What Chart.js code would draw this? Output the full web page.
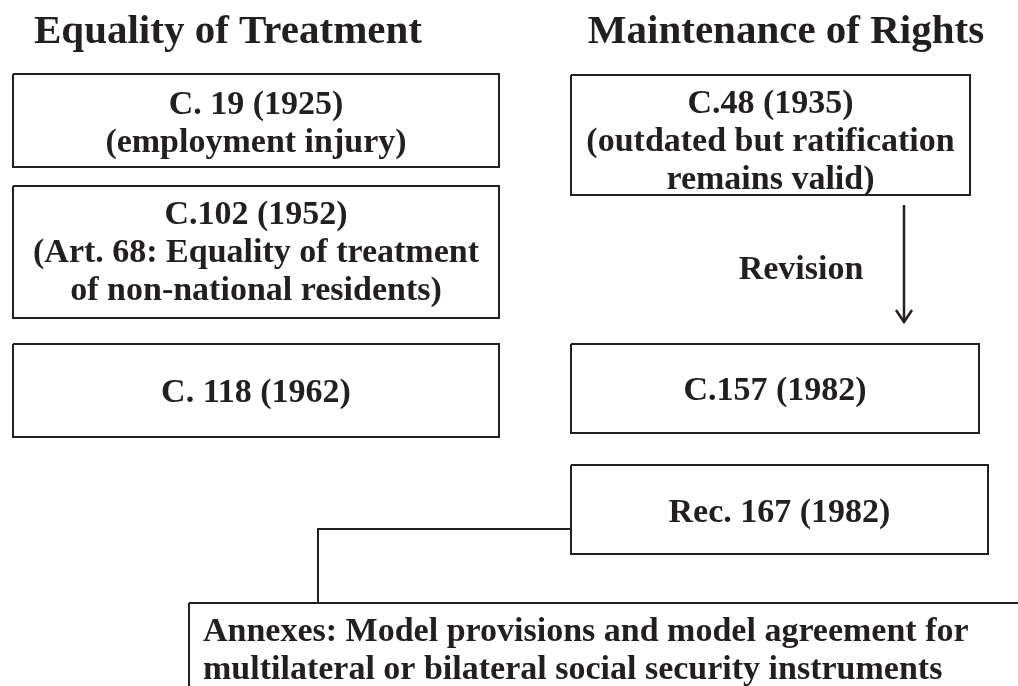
<!DOCTYPE html>
<html>
<head>
<meta charset="utf-8">
<script src="https://cdn.jsdelivr.net/npm/chart.js@4/dist/chart.umd.min.js"></script>
<style>
  html, body { margin: 0; padding: 0; background: #fff; }
  canvas { display: block; }
</style>
</head>
<body>
<canvas id="diagrama" width="1018" height="686"></canvas>
<script>
// Títulos de las dos columnas
var columnTitles = ['Equality of Treatment', 'Maintenance of Rights'];

// Textos de cada caja (una línea por elemento)
var boxTexts = [
    ['C. 19 (1925)', '(employment injury)'],
    ['C.102 (1952)', '(Art. 68: Equality of treatment', 'of non-national residents)'],
    ['C. 118 (1962)'],
    ['C.48 (1935)', '(outdated but ratification', 'remains valid)'],
    ['C.157 (1982)'],
    ['Rec. 167 (1982)'],
    ['Annexes: Model provisions and model agreement for', 'multilateral or bilateral social security instruments']
];
var arrowLabel = 'Revision';

// Geometría en unidades del eje (x 0-1018, y 0-686)
var boxLayout = [
    { x0: 13,  x1: 499,  y0: 74,  y1: 167, base: 114, align: 'center' },
    { x0: 13,  x1: 499,  y0: 186, y1: 318, base: 224, align: 'center' },
    { x0: 13,  x1: 499,  y0: 344, y1: 437, base: 402, align: 'center' },
    { x0: 571, x1: 970,  y0: 75,  y1: 195, base: 113, align: 'center' },
    { x0: 571, x1: 979,  y0: 344, y1: 433, base: 400, align: 'center' },
    { x0: 571, x1: 988,  y0: 465, y1: 554, base: 522, align: 'center' },
    { x0: 189, x1: 1030, y0: 603, y1: 700, base: 641, align: 'left', textX: 203 }
];
var lineGap = 37.8;
var titlePos = [{ x: 228, y: 43 }, { x: 786, y: 43 }];
var connector = [{ x: 571, y: 529 }, { x: 318, y: 529 }, { x: 318, y: 603 }];
var arrowShaft = [{ x: 904, y: 205 }, { x: 904, y: 322 }];
var arrowHead = [{ x: 896, y: 310 }, { x: 904, y: 322 }, { x: 912, y: 310 }];
var arrowLabelPos = { x: 801, y: 279 };

var ink = '#231f20';

function lineSet(points, width) {
    return {
        data: points,
        showLine: true,
        borderColor: ink,
        borderWidth: width,
        pointRadius: 0,
        tension: 0,
        fill: false
    };
}

var datasets = [];
boxLayout.forEach(function(b) {
    datasets.push(lineSet([
        { x: b.x0, y: b.y0 }, { x: b.x1, y: b.y0 }, { x: b.x1, y: b.y1 },
        { x: b.x0, y: b.y1 }, { x: b.x0, y: b.y0 }
    ], 2));
});
datasets.push(lineSet(connector, 2));
datasets.push(lineSet(arrowShaft, 2.5));
datasets.push(lineSet(arrowHead, 2.5));

// Plugin para escribir los textos usando las escalas del gráfico
var textPlugin = {
    id: 'textos',
    afterDatasetsDraw: function(chart) {
        var ctx = chart.ctx;
        var sx = chart.scales.x, sy = chart.scales.y;
        ctx.save();
        ctx.fillStyle = ink;
        ctx.textBaseline = 'alphabetic';

        ctx.font = 'bold 41px "Liberation Serif"';
        ctx.textAlign = 'center';
        columnTitles.forEach(function(t, i) {
            ctx.fillText(t, sx.getPixelForValue(titlePos[i].x), sy.getPixelForValue(titlePos[i].y));
        });

        ctx.font = 'bold 34px "Liberation Serif"';
        boxTexts.forEach(function(lines, i) {
            var b = boxLayout[i];
            var cx = b.align === 'left' ? b.textX : (b.x0 + b.x1) / 2;
            ctx.textAlign = b.align;
            lines.forEach(function(line, j) {
                ctx.fillText(line, sx.getPixelForValue(cx), sy.getPixelForValue(b.base + j * lineGap));
            });
        });

        ctx.textAlign = 'center';
        ctx.fillText(arrowLabel, sx.getPixelForValue(arrowLabelPos.x), sy.getPixelForValue(arrowLabelPos.y));
        ctx.restore();
    }
};

new Chart(document.getElementById('diagrama').getContext('2d'), {
    type: 'scatter',
    data: { datasets: datasets },
    options: {
        responsive: false,
        animation: false,
        layout: { padding: 0 },
        plugins: { legend: { display: false }, tooltip: { enabled: false } },
        scales: {
            x: { type: 'linear', min: 0, max: 1018, display: false },
            y: { type: 'linear', min: 0, max: 686, reverse: true, display: false }
        }
    },
    plugins: [textPlugin]
});
</script>
</body>
</html>
